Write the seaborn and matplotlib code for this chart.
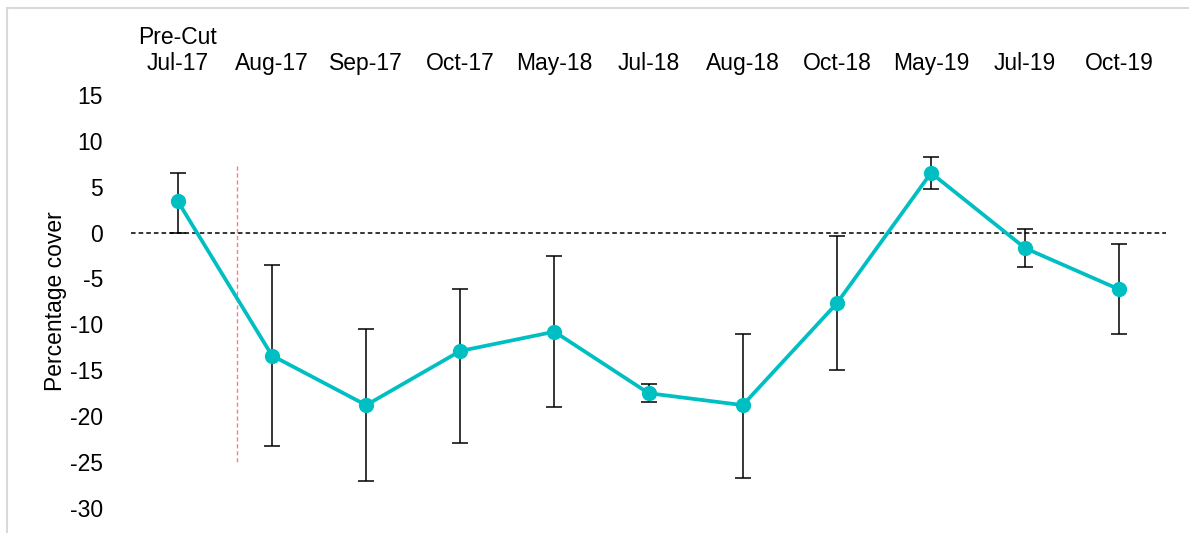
import matplotlib
matplotlib.use("Agg")
import numpy as np
import pandas as pd
import matplotlib.pyplot as plt
import seaborn as sns
from matplotlib.patches import Rectangle

# datos
fechas = ["Pre-Cut\nJul-17", "Aug-17", "Sep-17", "Oct-17", "May-18", "Jul-18",
          "Aug-18", "Oct-18", "May-19", "Jul-19", "Oct-19"]
cobertura = [3.4, -13.4, -18.8, -12.9, -10.8, -17.5, -18.8, -7.7, 6.5, -1.7, -6.2]
error_sup = [6.5, -3.5, -10.5, -6.2, -2.6, -16.5, -11.0, -0.4, 8.2, 0.4, -1.2]
error_inf = [0.0, -23.3, -27.1, -22.9, -19.0, -18.5, -26.7, -15.0, 4.8, -3.8, -11.1]
corte = 0.63  # linea roja entre Jul-17 y Aug-17

df = pd.DataFrame({"pos": np.arange(len(fechas)), "cobertura": cobertura})

sns.set_style("white")
plt.rcParams["font.family"] = ["Liberation Sans", "DejaVu Sans"]
plt.rcParams["axes.unicode_minus"] = False
plt.rcParams["text.color"] = "black"
plt.rcParams["axes.labelcolor"] = "black"
plt.rcParams["xtick.color"] = "black"
plt.rcParams["ytick.color"] = "black"

fig = plt.figure(figsize=(11.89, 5.33), dpi=100)
ax = fig.add_axes([0.110, 0.047, 0.871, 0.775])

# marco gris de fondo
fig.patches.append(Rectangle((7 / 1189, -0.1), 1.2, 1.1 - 8 / 533, transform=fig.transFigure,
                             fill=False, edgecolor="#d9d9d9", linewidth=1.5, zorder=0))

# barras de error
yerr = [np.array(cobertura) - np.array(error_inf), np.array(error_sup) - np.array(cobertura)]
ax.errorbar(df["pos"], df["cobertura"], yerr=yerr, fmt="none", ecolor="black",
            elinewidth=1.1, capsize=5.5, capthick=1.1, zorder=2)

# linea principal
sns.lineplot(x="pos", y="cobertura", data=df, ax=ax, color="#00BFC2", linewidth=2.7,
             marker="o", markersize=11, markeredgewidth=0, zorder=3)

# linea de cero y linea de corte
ax.axhline(0, color="black", linestyle=(0, (3, 2)), linewidth=1.1, zorder=1)
ax.plot([corte, corte], [7.3, -25], color="#ff7c7c", linestyle=(0, (3, 2)), linewidth=1.0, zorder=1)

ax.set_xlim(-0.5, 10.5)
ax.set_ylim(-30, 15)
ax.set_yticks(np.arange(-30, 16, 5))
ax.set_xticks(df["pos"])
ax.set_xticklabels(fechas)
ax.xaxis.tick_top()
ax.tick_params(axis="both", length=0, labelsize=16.5)
ax.tick_params(axis="x", pad=14)
ax.tick_params(axis="y", pad=20)
ax.set_xlabel("")
ax.set_ylabel("Percentage cover", fontsize=16.5, labelpad=2)
for s in ax.spines.values():
    s.set_visible(False)

fig.savefig("out.png", dpi=100)
